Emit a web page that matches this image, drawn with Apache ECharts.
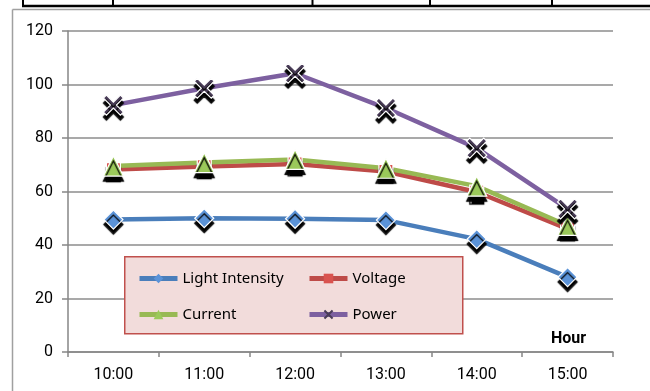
<!DOCTYPE html>
<html>
<head>
<meta charset="utf-8">
<script src="https://cdn.jsdelivr.net/npm/echarts@6/dist/echarts.min.js"></script>
<style>html,body{margin:0;padding:0;background:#fff;}#c{width:650px;height:391px;}</style>
</head>
<body>
<div id="c"></div>
<script>
const categories = ['10:00', '11:00', '12:00', '13:00', '14:00', '15:00'];
const lightIntensity = [49.5, 50.0, 49.8, 49.3, 42.2, 28.0];
const voltage = [68.2, 69.3, 70.3, 67.5, 59.8, 46.0];
const current = [69.5, 70.8, 72.0, 68.7, 62.0, 47.3];
const power = [92.3, 98.6, 104.2, 91.2, 76.2, 53.5];
const yTicks = { min: 0, max: 120, interval: 20 };

const xPath = 'path://M0,1.5 L1.5,0 L5,3.5 L8.5,0 L10,1.5 L6.5,5 L10,8.5 L8.5,10 L5,6.5 L1.5,10 L0,8.5 L3.5,5 Z';
const shadow = { shadowColor: '#000', shadowBlur: 1, shadowOffsetY: 5 };

function mkSeries(name, data, color, symbol, size, markerColor, border) {
  return {
    name, type: 'line', data,
    symbol, symbolSize: size,
    lineStyle: { color, width: 4.5 },
    itemStyle: Object.assign({ color: markerColor, borderColor: border, borderWidth: 1.2 }, shadow),
    emphasis: { disabled: true },
    z: 2
  };
}

const chart = echarts.init(document.getElementById('c'), null, { renderer: 'canvas' });
const legendText = { fontFamily: 'Noto Sans', fontSize: 15, color: '#000' };
const legendBase = {
  orient: 'vertical', top: 271, itemGap: 21, z: 6, padding: 0,
  itemWidth: 38, itemHeight: 12, textStyle: legendText, selectedMode: false,
  lineStyle: { width: 5 },
  itemStyle: { shadowBlur: 0, shadowOffsetY: 0, borderWidth: 0 }
};
chart.setOption({
  animation: false,
  backgroundColor: '#fff',
  grid: { left: 68, right: 37, top: 31, bottom: 39 },
  xAxis: {
    type: 'category', data: categories, boundaryGap: true,
    axisLine: { lineStyle: { color: '#868686', width: 1.5 } },
    axisTick: { show: true, length: 5, lineStyle: { color: '#868686', width: 1.5 } },
    axisLabel: { fontFamily: 'Roboto', fontSize: 16, color: '#000', margin: 15 }
  },
  yAxis: {
    type: 'value', min: yTicks.min, max: yTicks.max, interval: yTicks.interval,
    axisLine: { show: true, lineStyle: { color: '#868686', width: 1.5 } },
    axisTick: { show: true, length: 6, lineStyle: { color: '#868686', width: 1.5 } },
    axisLabel: { fontFamily: 'Roboto', fontSize: 16, color: '#000', margin: 15 },
    splitLine: { lineStyle: { color: '#8c8c8c', width: 1.5 } }
  },
  legend: [
    Object.assign({ data: ['Light Intensity', 'Current'], left: 137 }, legendBase),
    Object.assign({ data: ['Voltage', 'Power'], left: 307 }, legendBase)
  ],
  graphic: [
    { type: 'rect', left: 124, top: 256, shape: { width: 338, height: 77 }, z: 3,
      style: { fill: '#f2dcdb', stroke: '#c0504d', lineWidth: 1.5 } },
    { type: 'text', left: 551, top: 331, z: 10,
      style: { text: 'Hour', font: 'bold 16px Roboto', fill: '#000' } },
    { type: 'line', shape: { x1: 22, y1: 6, x2: 650, y2: 6 }, style: { stroke: '#000', lineWidth: 2.5 } },
    { type: 'line', shape: { x1: 23, y1: 0, x2: 23, y2: 6 }, style: { stroke: '#000', lineWidth: 2 } },
    { type: 'line', shape: { x1: 113, y1: 0, x2: 113, y2: 6 }, style: { stroke: '#000', lineWidth: 2 } },
    { type: 'line', shape: { x1: 312.5, y1: 0, x2: 312.5, y2: 6 }, style: { stroke: '#000', lineWidth: 2 } },
    { type: 'line', shape: { x1: 430, y1: 0, x2: 430, y2: 6 }, style: { stroke: '#000', lineWidth: 2 } },
    { type: 'line', shape: { x1: 552, y1: 0, x2: 552, y2: 6 }, style: { stroke: '#000', lineWidth: 2 } },
    { type: 'line', shape: { x1: 12.5, y1: 9.5, x2: 650, y2: 9.5 }, style: { stroke: '#a0a0a0', lineWidth: 1.5 } },
    { type: 'line', shape: { x1: 12.5, y1: 9.5, x2: 12.5, y2: 391 }, style: { stroke: '#a0a0a0', lineWidth: 1.5 } }
  ],
  series: [
    mkSeries('Light Intensity', lightIntensity, '#4a7ebb', 'diamond', 19, '#5b93d8', '#ffffff'),
    mkSeries('Voltage', voltage, '#be4b48', 'rect', 14, '#d9534f', '#ffffff'),
    mkSeries('Current', current, '#98b954', 'triangle', 20, '#9bc95a', '#ffffff'),
    mkSeries('Power', power, '#7d60a0', xPath, 20, '#4a3d58', '#ffffff')
  ]
});
</script>
</body>
</html>
